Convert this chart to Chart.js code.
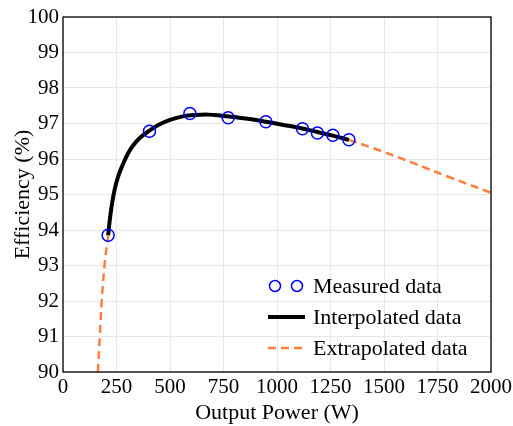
<!DOCTYPE html>
<html>
<head>
<meta charset="utf-8">
<script src="https://cdn.jsdelivr.net/npm/chart.js@4.4.0/dist/chart.umd.min.js"></script>
<style>
  html, body { margin: 0; padding: 0; background: #fff; }
</style>
</head>
<body>
<canvas id="eff-chart" width="513" height="426"></canvas>
<script>
// values
const measuredX = [211, 404, 593, 772, 948, 1119, 1189, 1261, 1336];
const measuredY = [93.85, 96.78, 97.28, 97.16, 97.05, 96.85, 96.73, 96.67, 96.54];

const interpX = [211, 218, 226, 236, 248, 262, 280, 303, 330, 360, 404, 450, 500, 560, 620, 680, 740, 800, 880, 948, 1030, 1119, 1189, 1261, 1336];
const interpY = [93.85, 94.25, 94.62, 94.98, 95.3, 95.58, 95.85, 96.15, 96.4, 96.6, 96.8, 96.97, 97.1, 97.2, 97.24, 97.25, 97.22, 97.18, 97.12, 97.05, 96.96, 96.86, 96.76, 96.66, 96.54];

const extrapLowX = [163, 172, 181, 194, 211];
const extrapLowY = [90, 91, 92, 93, 93.85];
const extrapHighX = [1336, 1480, 1635, 1800, 2000];
const extrapHighY = [96.54, 96.24, 95.89, 95.5, 95.05];

const xTicks = [0, 250, 500, 750, 1000, 1250, 1500, 1750, 2000];
const yTicks = [90, 91, 92, 93, 94, 95, 96, 97, 98, 99, 100];

const legendLabels = ['Measured data', 'Interpolated data', 'Extrapolated data'];

const FONT = 'Liberation Serif';
const ORANGE = '#ff7f3f';

function pts(xs, ys) {
    return xs.map(function(x, i) { return { x: x, y: ys[i] }; });
}

// box round the plot + legend drawn by hand (two circles for the markers)
const framePlugin = {
    id: 'frame',
    afterDraw: function(chart) {
        const ctx = chart.ctx;
        const a = chart.chartArea;
        ctx.save();
        ctx.strokeStyle = '#000';
        ctx.lineWidth = 1.3;
        ctx.strokeRect(a.left, a.top, a.right - a.left, a.bottom - a.top);

        const x0 = 268, x1 = 305, tx = 313;
        const rows = [286, 317, 348];
        ctx.font = '22px "' + FONT + '"';
        ctx.fillStyle = '#000';
        ctx.textBaseline = 'middle';
        ctx.textAlign = 'left';

        ctx.strokeStyle = '#0000ff';
        ctx.lineWidth = 1.5;
        [275, 297].forEach(function(cx) {
            ctx.beginPath();
            ctx.arc(cx, rows[0], 5.5, 0, Math.PI * 2);
            ctx.stroke();
        });

        ctx.strokeStyle = '#000';
        ctx.lineWidth = 4;
        ctx.beginPath();
        ctx.moveTo(x0, rows[1]);
        ctx.lineTo(x1, rows[1]);
        ctx.stroke();

        ctx.strokeStyle = ORANGE;
        ctx.lineWidth = 2.5;
        ctx.setLineDash([8, 5]);
        ctx.beginPath();
        ctx.moveTo(x0, rows[2]);
        ctx.lineTo(x1, rows[2]);
        ctx.stroke();
        ctx.setLineDash([]);

        legendLabels.forEach(function(t, i) {
            ctx.fillText(t, tx, rows[i] + 1);
        });
        ctx.restore();
    }
};

const ctx = document.getElementById('eff-chart').getContext('2d');

const chart = new Chart(ctx, {
    type: 'scatter',
    data: {
        datasets: [
            {
                label: legendLabels[0],
                data: pts(measuredX, measuredY),
                showLine: false,
                pointRadius: 6,
                pointBorderWidth: 1.5,
                pointBorderColor: '#0000ff',
                pointBackgroundColor: 'rgba(0,0,0,0)',
                order: 0
            },
            {
                label: legendLabels[1],
                data: pts(interpX, interpY),
                showLine: true,
                borderColor: '#000',
                borderWidth: 4,
                pointRadius: 0,
                tension: 0.4,
                order: 1
            },
            {
                label: legendLabels[2],
                data: pts(extrapLowX, extrapLowY),
                showLine: true,
                borderColor: ORANGE,
                borderWidth: 2.5,
                borderDash: [8, 5],
                pointRadius: 0,
                tension: 0.4,
                order: 2
            },
            {
                label: legendLabels[2],
                data: pts(extrapHighX, extrapHighY),
                showLine: true,
                borderColor: ORANGE,
                borderWidth: 2.5,
                borderDash: [8, 5],
                pointRadius: 0,
                tension: 0.4,
                order: 2
            }
        ]
    },
    options: {
        responsive: false,
        animation: false,
        clip: false,
        layout: { padding: { top: 17, right: 22, left: 0, bottom: 0 } },
        plugins: {
            legend: { display: false },
            tooltip: { enabled: false }
        },
        scales: {
            x: {
                type: 'linear',
                min: 0,
                max: 2000,
                afterBuildTicks: function(scale) {
                    scale.ticks = xTicks.map(function(v) { return { value: v }; });
                },
                afterFit: function(scale) {
                    scale.height = 54;
                    scale.paddingLeft = 0;
                    scale.paddingRight = 0;
                },
                grid: { color: '#e8e8e8', lineWidth: 1, drawTicks: false },
                border: { display: false },
                ticks: {
                    color: '#000',
                    padding: 3,
                    maxRotation: 0,
                    autoSkip: false,
                    callback: function(v) { return String(v); },
                    font: { family: FONT, size: 21 }
                },
                title: {
                    display: true,
                    text: 'Output Power (W)',
                    color: '#000',
                    padding: { top: 3, bottom: 0 },
                    font: { family: FONT, size: 22 }
                }
            },
            y: {
                type: 'linear',
                min: 90,
                max: 100,
                afterBuildTicks: function(scale) {
                    scale.ticks = yTicks.map(function(v) { return { value: v }; });
                },
                afterFit: function(scale) { scale.width = 63; },
                grid: { color: '#e8e8e8', lineWidth: 1, drawTicks: false },
                border: { display: false },
                ticks: {
                    color: '#000',
                    padding: 4,
                    autoSkip: false,
                    callback: function(v) { return String(v); },
                    font: { family: FONT, size: 21 }
                },
                title: {
                    display: true,
                    text: 'Efficiency (%)',
                    color: '#000',
                    padding: { top: 10, bottom: 0 },
                    font: { family: FONT, size: 22 }
                }
            }
        }
    },
    plugins: [framePlugin]
});
</script>
</body>
</html>
